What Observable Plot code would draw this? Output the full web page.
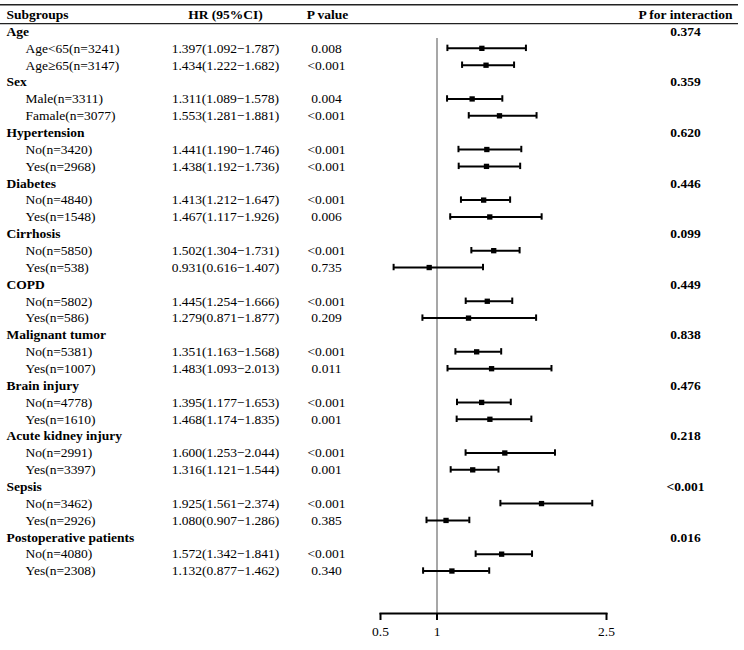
<!DOCTYPE html>
<html>
<head>
<meta charset="utf-8">
<script src="https://cdn.jsdelivr.net/npm/d3@7"></script>
<script src="https://cdn.jsdelivr.net/npm/@observablehq/plot@0.6"></script>
<style>
  html, body { margin: 0; padding: 0; background: #fff; }
  #chart { width: 744px; height: 650px; }
</style>
</head>
<body>
<div id="chart"></div>
<script>
// ---- data ----
const groups = ["Age", "Sex", "Hypertension", "Diabetes", "Cirrhosis", "COPD",
  "Malignant tumor", "Brain injury", "Acute kidney injury", "Sepsis", "Postoperative patients"];
const pInteraction = ["0.374", "0.359", "0.620", "0.446", "0.099", "0.449",
  "0.838", "0.476", "0.218", "<0.001", "0.016"];
const levels = [
  ["Age<65", "Age≥65"], ["Male", "Famale"], ["No", "Yes"], ["No", "Yes"], ["No", "Yes"],
  ["No", "Yes"], ["No", "Yes"], ["No", "Yes"], ["No", "Yes"], ["No", "Yes"], ["No", "Yes"]
];
const counts = [
  [3241, 3147], [3311, 3077], [3420, 2968], [4840, 1548], [5850, 538], [5802, 586],
  [5381, 1007], [4778, 1610], [2991, 3397], [3462, 2926], [4080, 2308]
];
const hr = [
  [1.397, 1.434], [1.311, 1.553], [1.441, 1.438], [1.413, 1.467], [1.502, 0.931], [1.445, 1.279],
  [1.351, 1.483], [1.395, 1.468], [1.600, 1.316], [1.925, 1.080], [1.572, 1.132]
];
const ciLow = [
  [1.092, 1.222], [1.089, 1.281], [1.190, 1.192], [1.212, 1.117], [1.304, 0.616], [1.254, 0.871],
  [1.163, 1.093], [1.177, 1.174], [1.253, 1.121], [1.561, 0.907], [1.342, 0.877]
];
const ciHigh = [
  [1.787, 1.682], [1.578, 1.881], [1.746, 1.736], [1.647, 1.926], [1.731, 1.407], [1.666, 1.877],
  [1.568, 2.013], [1.653, 1.835], [2.044, 1.544], [2.374, 1.286], [1.841, 1.462]
];
const pValues = [
  ["0.008", "<0.001"], ["0.004", "<0.001"], ["<0.001", "<0.001"], ["<0.001", "0.006"],
  ["<0.001", "0.735"], ["<0.001", "0.209"], ["<0.001", "0.011"], ["<0.001", "0.001"],
  ["<0.001", "0.001"], ["<0.001", "0.385"], ["<0.001", "0.340"]
];
const headers = ["Subgroups", "HR (95%CI)", "P value", "P for interaction"];
const xTicks = [0.5, 1, 2.5];

// ---- build rows ----
const groupRows = groups.map((g, i) => ({row: i * 3, label: g, pint: pInteraction[i]}));
const subRows = [];
groups.forEach((g, i) => {
  for (let j = 0; j < 2; j++) {
    subRows.push({
      row: i * 3 + 1 + j,
      label: `${levels[i][j]}(n=${counts[i][j]})`,
      hr: hr[i][j], lo: ciLow[i][j], hi: ciHigh[i][j],
      hrText: `${hr[i][j].toFixed(3)}(${ciLow[i][j].toFixed(3)}−${ciHigh[i][j].toFixed(3)})`,
      p: pValues[i][j]
    });
  }
});
const headerRow = -1;

const W = 744, H = 650;
const mLeft = 380, mRight = 138, mTop = 31, mBottom = 37;
const rowStep = 16.86;
const yMax = (H - mTop - mBottom) / rowStep;
const ruleRightEnd = 738;
const extendRight = -(ruleRightEnd - (W - mRight));

const font = "'Liberation Serif', 'Times New Roman', serif";
const fs = 13.5;

const chart = Plot.plot({
  width: W,
  height: H,
  marginLeft: mLeft,
  marginRight: mRight,
  marginTop: mTop,
  marginBottom: mBottom,
  style: {fontFamily: font, fontSize: fs + "px", background: "#fff", color: "#000"},
  x: {domain: [0.5, 2.5], axis: null},
  y: {domain: [0, yMax], reverse: true, axis: null},
  marks: [
    // top rules
    Plot.ruleY([headerRow], {dy: -10, insetLeft: -mLeft, insetRight: extendRight, stroke: "#222", strokeWidth: 1.5}),
    Plot.ruleY([headerRow], {dy: 9, insetLeft: -mLeft, insetRight: extendRight, stroke: "#222", strokeWidth: 1.2}),
    // header
    Plot.text([headers[0]], {y: () => headerRow, frameAnchor: "left", dx: 6 - mLeft, textAnchor: "start", fontWeight: "bold", fontSize: fs, text: d => d}),
    Plot.text([headers[1]], {y: () => headerRow, frameAnchor: "left", dx: 225 - mLeft, textAnchor: "middle", fontWeight: "bold", fontSize: fs, text: d => d}),
    Plot.text([headers[2]], {y: () => headerRow, frameAnchor: "left", dx: 327 - mLeft, textAnchor: "middle", fontWeight: "bold", fontSize: fs, text: d => d}),
    Plot.text([headers[3]], {y: () => headerRow, frameAnchor: "right", dx: 685 - (W - mRight), textAnchor: "middle", fontWeight: "bold", fontSize: fs, text: d => d}),
    // group labels + p for interaction
    Plot.text(groupRows, {y: "row", text: "label", frameAnchor: "left", dx: 6 - mLeft, textAnchor: "start", fontWeight: "bold", fontSize: fs}),
    Plot.text(groupRows, {y: "row", text: "pint", frameAnchor: "right", dx: 685 - (W - mRight), textAnchor: "middle", fontWeight: "bold", fontSize: fs}),
    // subgroup rows
    Plot.text(subRows, {y: "row", text: "label", frameAnchor: "left", dx: 25 - mLeft, textAnchor: "start", fontSize: fs}),
    Plot.text(subRows, {y: "row", text: "hrText", frameAnchor: "left", dx: 225 - mLeft, textAnchor: "middle", fontSize: fs}),
    Plot.text(subRows, {y: "row", text: "p", frameAnchor: "left", dx: 326 - mLeft, textAnchor: "middle", fontSize: fs}),
    // reference line
    Plot.ruleX([1], {stroke: "#8a8a8a", strokeWidth: 1.5, insetTop: 7}),
    // CIs
    Plot.ruleY(subRows, {y: "row", x1: "lo", x2: "hi", stroke: "#000", strokeWidth: 2}),
    Plot.ruleX(subRows, {x: "lo", y1: d => d.row - 0.19, y2: d => d.row + 0.19, stroke: "#000", strokeWidth: 2}),
    Plot.ruleX(subRows, {x: "hi", y1: d => d.row - 0.19, y2: d => d.row + 0.19, stroke: "#000", strokeWidth: 2}),
    Plot.dot(subRows, {x: "hr", y: "row", symbol: "square", r: 3, fill: "#000", stroke: null}),
    // x axis
    Plot.frame({anchor: "bottom", stroke: "#000", strokeWidth: 2}),
    Plot.axisX({ticks: xTicks, tickSize: 7, tickPadding: 6, tickFormat: d => String(d), strokeWidth: 2, fontSize: 13.5, stroke: "#000"})
  ]
});
document.getElementById("chart").appendChild(chart);
</script>
</body>
</html>
